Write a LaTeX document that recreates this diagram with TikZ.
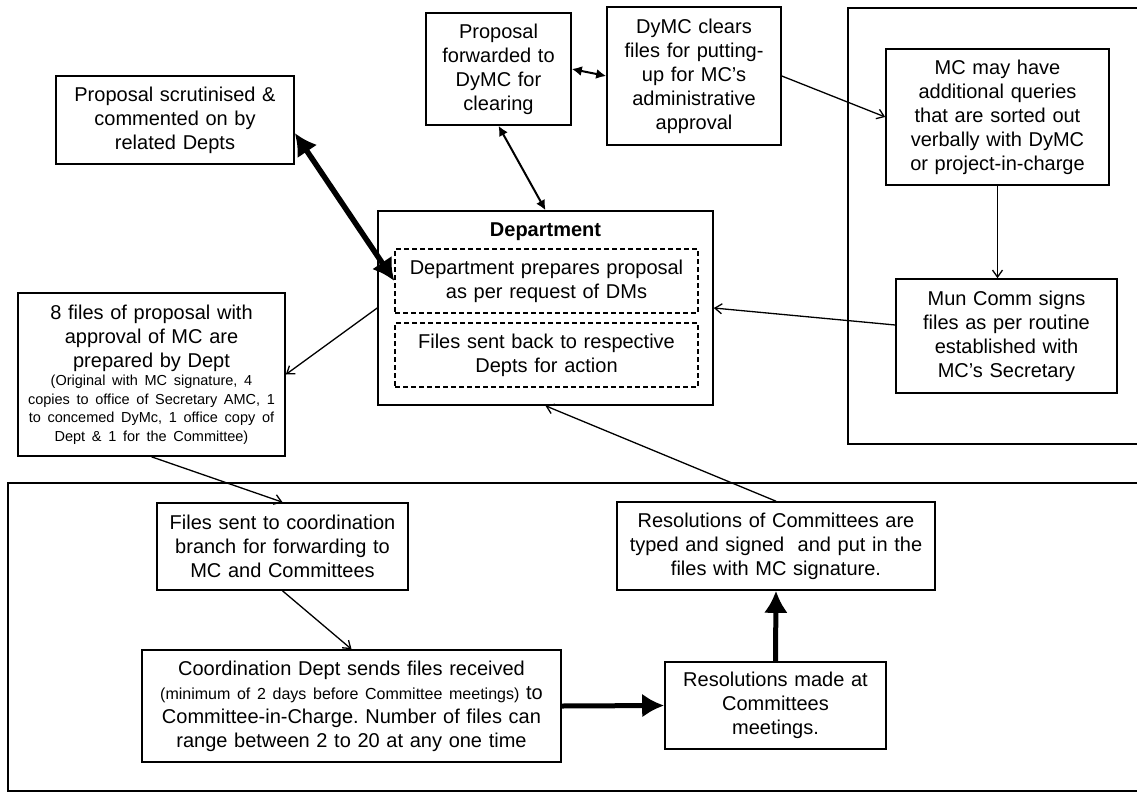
\documentclass[tikz,border=0pt]{standalone}
\usepackage{fontspec}
\setmainfont{Liberation Sans}
\frenchspacing
\usetikzlibrary{arrows.meta,calc}
\tikzset{
  box/.style={draw,line width=1.6pt,align=center,inner sep=0pt,
    font=\fontsize{20}{24}\selectfont},
  dbox/.style={draw,line width=1.3pt,dash pattern=on 5pt off 3pt,align=center,inner sep=0pt,
    font=\fontsize{20}{24}\selectfont},
  thin/.style={line width=1.3pt,-{Straight Barb[length=7pt,width=10pt,line width=1.3pt]}},
  dbl/.style={line width=2pt,{Latex[length=10pt,width=10pt]}-{Latex[length=10pt,width=10pt]}},
  thick/.style={line width=5pt,-{Latex[length=22pt,width=24pt]}},
  thickdbl/.style={line width=5.5pt,{Latex[length=22pt,width=24pt]}-{Latex[length=22pt,width=24pt]}},
  panel/.style={line width=1.6pt},
}
\begin{document}
\begin{tikzpicture}[x=1pt,y=-1pt]
\useasboundingbox (0,0) rectangle (1137,792);
\fill[white] (0,0) rectangle (1137,792);
% panels
\draw[panel] (1137,8) -- (848,8) -- (848,444) -- (1137,444);
\draw[panel] (1137,483) -- (8,483) -- (8,791) -- (1137,791);
% boxes
\node[box,minimum width=238pt,minimum height=88pt,text width=230pt] (scrut) at (175,120)
  {Proposal scrutinised \&\\commented on by\\related Depts};
\node[box,minimum width=145pt,minimum height=112pt,text width=140pt] (fwd) at (498.5,69)
  {Proposal\\forwarded to\\DyMC for\\clearing};
\node[box,minimum width=174pt,minimum height=138pt,text width=170pt] (clears) at (694,76)
  {DyMC clears\\files for putting-\\up for MC’s\\administrative\\approval};
\node[box,minimum width=223pt,minimum height=136pt,text width=218pt] (mcq) at (997.5,117)
  {MC may have\\additional queries\\that are sorted out\\verbally with DyMC\\or project-in-charge};
\node[box,minimum width=221pt,minimum height=114pt,text width=216pt] (mun) at (1006.5,336)
  {Mun Comm signs\\files as per routine\\established with\\MC’s Secretary};
\node[box,minimum width=335pt,minimum height=194pt] (dept) at (545.5,308) {};
\node[font=\fontsize{20}{24}\selectfont\bfseries] (deptlabel) at (545.5,232) {Department};
\node[dbox,minimum width=303pt,minimum height=64pt,text width=298pt] (prep) at (546.5,281)
  {Department prepares proposal\\as per request of DMs};
\node[dbox,minimum width=303pt,minimum height=64pt,text width=298pt] (back) at (546.5,355)
  {Files sent back to respective\\Depts for action};
\node[box,minimum width=267pt,minimum height=163pt,text width=262pt] (eight) at (151.5,374.5)
  {8 files of proposal with\\approval of MC are\\prepared by Dept\par
   {\fontsize{14.5}{18.5}\selectfont (Original with MC signature, 4\\copies to office of Secretary AMC, 1\\to concemed DyMc, 1 office copy of\\Dept \& 1 for the Committee)\par}};
\node[box,minimum width=251pt,minimum height=87pt,text width=246pt] (sent) at (282.5,546.5)
  {Files sent to coordination\\branch for forwarding to\\MC and Committees};
\node[box,minimum width=419pt,minimum height=112pt,text width=414pt] (coord) at (351.5,706)
  {Coordination Dept sends files received\\
   {\fontsize{16}{24}\selectfont(minimum of 2 days before Committee meetings)} to\\
   Committee-in-Charge. Number of files can\\range between 2 to 20 at any one time};
\node[box,minimum width=318pt,minimum height=88pt,text width=314pt] (rescomm) at (776,546)
  {Resolutions of Committees are\\typed and signed\ \ and put in the\\files with MC signature.};
\node[box,minimum width=221pt,minimum height=87pt,text width=216pt] (resmade) at (775.5,705.5)
  {Resolutions made at\\Committees\\meetings.};
% connectors
\draw[thickdbl] ([yshift=-13pt]scrut.east) -- (prep.west);
\draw[dbl] (fwd.south) -- (dept.north);
\draw[dbl] (fwd.east) -- (clears.west);
\draw[thin] (clears.east) -- (mcq.west);
\draw[thin] (mcq.south) -- (mcq.south |- mun.north);
\draw[thin] ([yshift=11pt]mun.west) -- (dept.east);
\draw[thin] (dept.west) -- (eight.east);
\draw[thin] (eight.south) -- (sent.north);
\draw[thin] (sent.south) -- (coord.north);
\draw[thick] (coord.east) -- (resmade.west);
\draw[thick] (resmade.north) -- (rescomm.south);
\draw[thin] (rescomm.north) -- (dept.south);
\end{tikzpicture}
\end{document}
